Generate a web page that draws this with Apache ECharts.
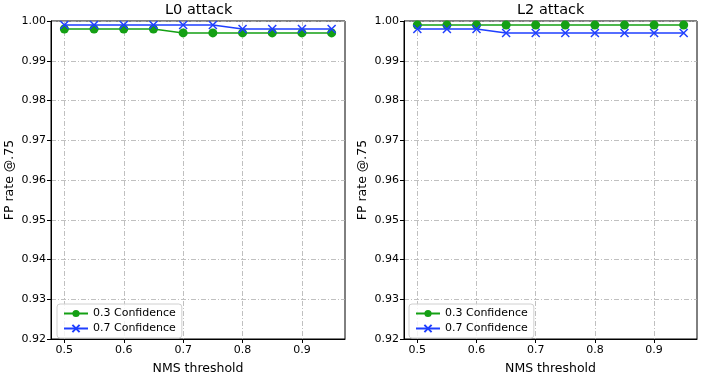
<!DOCTYPE html>
<html>
<head>
<meta charset="utf-8">
<script src="https://cdn.jsdelivr.net/npm/echarts@6/dist/echarts.min.js"></script>
<style>
html,body{margin:0;padding:0;background:#fff;}
#main{width:706px;height:380px;}
</style>
</head>
<body>
<div id="main"></div>
<script>
// NMS thresholds
var nms = [0.5, 0.55, 0.6, 0.65, 0.7, 0.75, 0.8, 0.85, 0.9, 0.95];
var xTicks = [0.5, 0.6, 0.7, 0.8, 0.9];
// L0 attack
var l0Conf03 = [0.998, 0.998, 0.998, 0.998, 0.997, 0.997, 0.997, 0.997, 0.997, 0.997];
var l0Conf07 = [0.999, 0.999, 0.999, 0.999, 0.999, 0.999, 0.998, 0.998, 0.998, 0.998];
// L2 attack
var l2Conf03 = [0.999, 0.999, 0.999, 0.999, 0.999, 0.999, 0.999, 0.999, 0.999, 0.999];
var l2Conf07 = [0.998, 0.998, 0.998, 0.997, 0.997, 0.997, 0.997, 0.997, 0.997, 0.997];

var green = '#14a014', blue = '#1f3fff';
var font = 'DejaVu Sans';
var xSymbol = 'path://M0,0L10,10M10,0L0,10';

function pairs(ys){
	return nms.map(function(x, i){ return [x, ys[i]]; });
}

function xAxisCfg(idx){
	return {
		type: 'value', gridIndex: idx, min: 0.4775, max: 0.9725,
		name: 'NMS threshold', nameLocation: 'middle', nameGap: 23,
		nameTextStyle: {fontFamily: font, fontSize: 12.5, color: '#000'},
		axisLine: {show: true, onZero: false, lineStyle: {color: '#000', width: 1}},
		axisTick: {show: true, length: 4, customValues: xTicks, lineStyle: {color: '#000'}},
		axisLabel: {customValues: xTicks, fontFamily: font, fontSize: 11, color: '#000', margin: 6,
			formatter: function(v){ return v.toFixed(1); }},
		splitLine: {show: true, lineStyle: {color: '#b0b0b0', type: [5, 2, 1, 2], width: 0.8}}
	};
}

function yAxisCfg(idx){
	return {
		type: 'value', gridIndex: idx, min: 0.92, max: 1.0, interval: 0.01,
		name: 'FP rate @.75', nameLocation: 'middle', nameGap: 35,
		nameTextStyle: {fontFamily: font, fontSize: 12.5, color: '#000'},
		axisLine: {show: true, lineStyle: {color: '#000', width: 1}},
		axisTick: {show: true, length: 4, lineStyle: {color: '#000'}},
		axisLabel: {fontFamily: font, fontSize: 11, color: '#000', margin: 5,
			formatter: function(v){ return v.toFixed(2); }},
		splitLine: {show: true, lineStyle: {color: '#b0b0b0', type: [5, 2, 1, 2], width: 0.8}}
	};
}

function lineSeries(name, idx, ys, color, sym){
	return {
		name: name, type: 'line', xAxisIndex: idx, yAxisIndex: idx,
		data: pairs(ys), symbol: sym, symbolSize: sym === 'circle' ? 9 : 8,
		lineStyle: {color: color, width: 1.6},
		itemStyle: {color: color, borderColor: color, borderWidth: sym === 'circle' ? 0 : 1.5},
		animation: false, z: sym === 'circle' ? 2 : 3
	};
}

function legendCfg(left){
	return {
		left: left, top: 304, orient: 'vertical', itemGap: 4, itemWidth: 24, itemHeight: 9,
		padding: [4, 6, 4, 6],
		backgroundColor: 'rgba(255,255,255,0.8)', borderColor: '#d0d0d0', borderWidth: 1, borderRadius: 3,
		textStyle: {fontFamily: font, fontSize: 11, color: '#000'},
		data: ['0.3 Confidence', '0.7 Confidence']
	};
}

var chart = echarts.init(document.getElementById('main'));
chart.setOption({
	backgroundColor: '#fff',
	animation: false,
	title: [
		{text: 'L0 attack', left: 160, top: -2,
			textStyle: {fontFamily: font, fontSize: 14.5, fontWeight: 'normal', color: '#000'}},
		{text: 'L2 attack', left: 512, top: -2,
			textStyle: {fontFamily: font, fontSize: 14.5, fontWeight: 'normal', color: '#000'}}
	],
	grid: [
		{left: 51, top: 21, width: 294, height: 323, show: true, borderColor: '#000', borderWidth: 1, backgroundColor: 'transparent'},
		{left: 404, top: 21, width: 293, height: 323, show: true, borderColor: '#000', borderWidth: 1, backgroundColor: 'transparent'}
	],
	legend: [legendCfg(57), legendCfg(409)],
	xAxis: [xAxisCfg(0), xAxisCfg(1)],
	yAxis: [yAxisCfg(0), yAxisCfg(1)],
	series: [
		lineSeries('0.3 Confidence', 0, l0Conf03, green, 'circle'),
		lineSeries('0.7 Confidence', 0, l0Conf07, blue, xSymbol),
		lineSeries('0.3 Confidence', 1, l2Conf03, green, 'circle'),
		lineSeries('0.7 Confidence', 1, l2Conf07, blue, xSymbol)
	]
});
</script>
</body>
</html>
